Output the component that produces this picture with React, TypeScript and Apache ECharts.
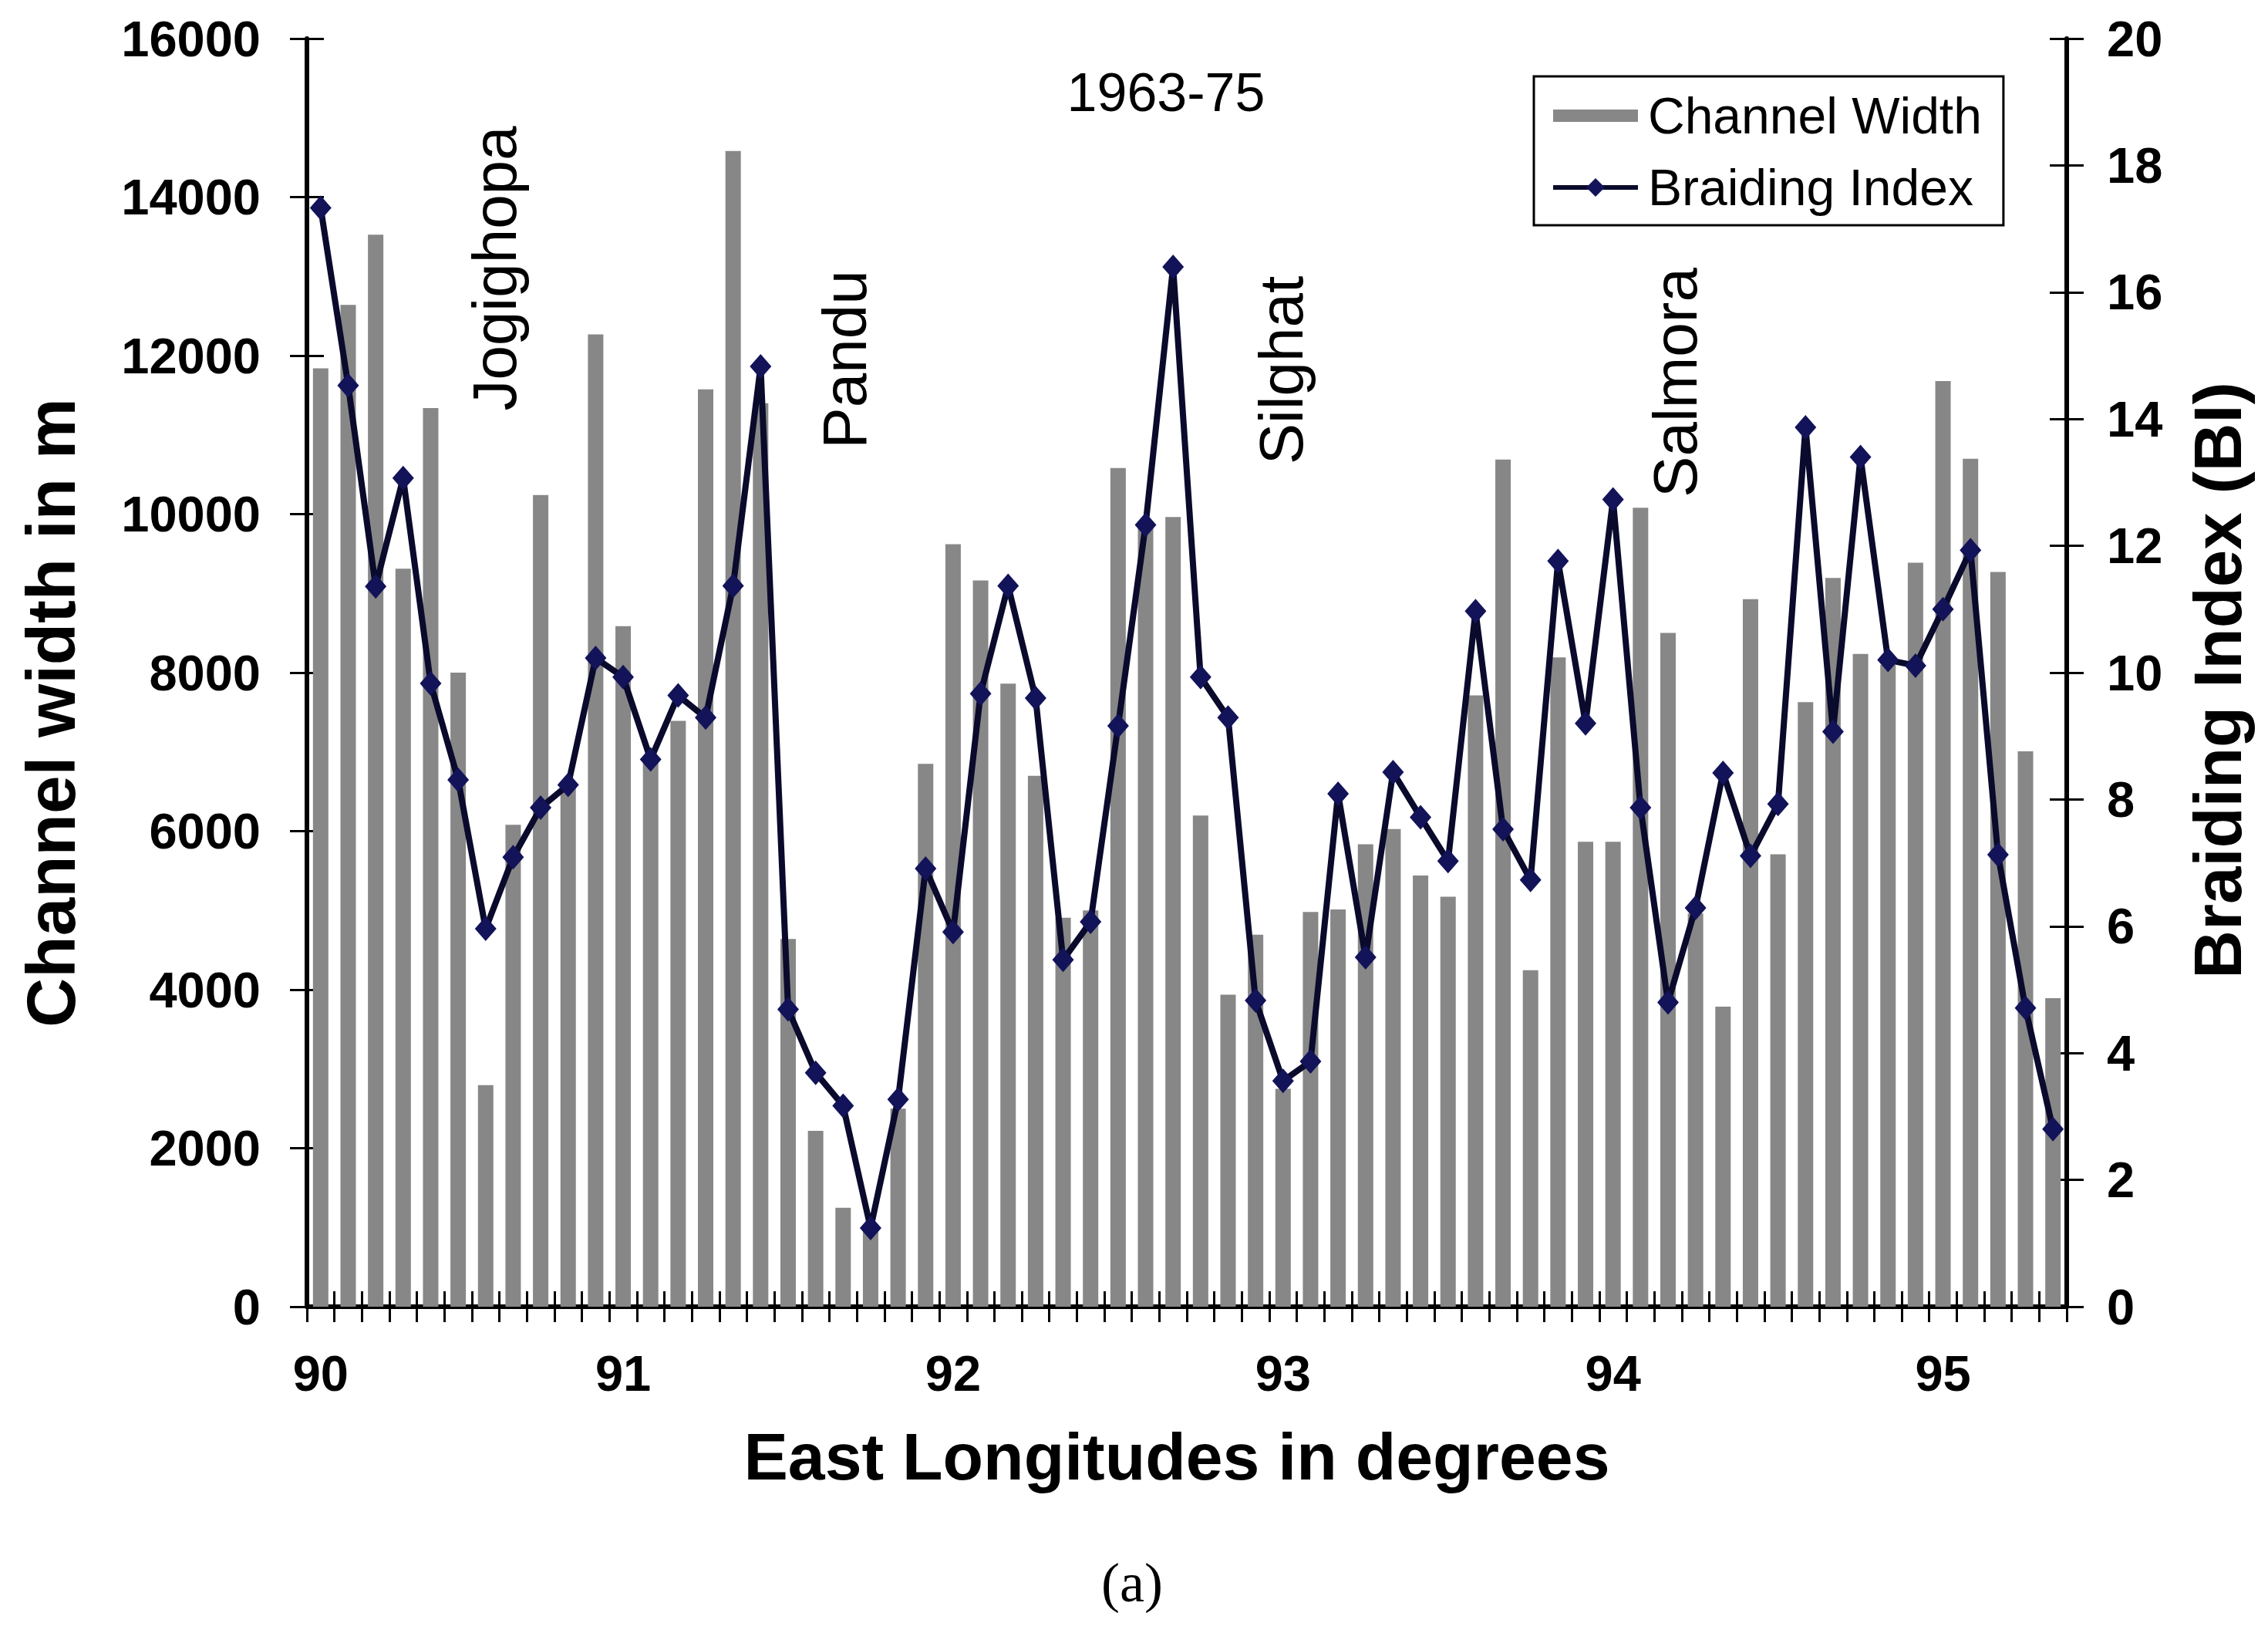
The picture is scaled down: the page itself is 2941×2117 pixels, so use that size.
import React, { useEffect, useRef } from "react";
import * as echarts from "echarts";

// Channel width (m) at each cross-section, 1963-75
const widthM = [
  11840, 12640, 13525, 9312, 11339, 8000, 2795, 6080, 10240, 6560,
  12267, 8587, 6900, 7392, 11573, 14581, 11400, 4640, 2219, 1248,
  1000, 2500, 6848, 9621, 9163, 7861, 6699, 4907, 5000, 10581,
  9900, 9963, 6197, 3936, 4693, 2750, 4981, 5013, 5835, 6027,
  5440, 5173, 7712, 10688, 4245, 8192, 5867, 5867, 10080, 8501,
  4960, 3787, 8928, 5707, 7627, 9195, 8235, 8100, 9387, 11680,
  10699, 9269, 7008, 3893,
];

// Braiding index (BI) at each cross-section
const braidingIndex = [
  17.33, 14.53, 11.36, 13.07, 9.83, 8.31, 5.96, 7.09, 7.87, 8.23,
  10.23, 9.93, 8.63, 9.64, 9.29, 11.37, 14.83, 4.69, 3.69, 3.17,
  1.24, 3.27, 6.91, 5.91, 9.67, 11.37, 9.6, 5.47, 6.07, 9.16,
  12.33, 16.4, 9.93, 9.29, 4.83, 3.56, 3.87, 8.09, 5.51, 8.43,
  7.72, 7.03, 10.97, 7.53, 6.73, 11.76, 9.2, 12.73, 7.87, 4.8,
  6.29, 8.42, 7.11, 7.93, 13.87, 9.07, 13.4, 10.2, 10.11, 11.0,
  11.93, 7.13, 4.71, 2.8,
];

// Longitude tick labels (category index -> label)
const degreeTickIndex = [0, 11, 23, 35, 47, 59];
const degreeTickLabel = ["90", "91", "92", "93", "94", "95"];

const seriesNames = ["Channel Width", "Braiding Index"];
const chartTitle = "1963-75";
const stationNames = ["Jogighopa", "Pandu", "Silghat", "Salmora"];
const xAxisTitle = "East Longitudes in degrees";
const leftAxisTitle = "Channel width in m";
const rightAxisTitle = "Braiding Index (BI)";
const panelLabel = "(a)";

const categories = widthM.map((_, i) => String(i));

const FONT = '"Liberation Sans", Arial, Helvetica, sans-serif';
const SERIF = '"Liberation Serif", "Times New Roman", serif';

const stationPos = [
  [641, 348],
  [1095, 466],
  [1661, 480],
  [2172, 496],
];

function buildOption(): any {
  const labelMap: Record<number, string> = {};
  degreeTickIndex.forEach((idx, k) => {
    labelMap[idx] = degreeTickLabel[k];
  });
  const tickStyle = { color: "#000", width: 3 };
  const axisLabelBase = {
    color: "#000",
    fontSize: 65,
    fontWeight: "bold",
    fontFamily: FONT,
  };
  return {
    animation: false,
    backgroundColor: "#fff",
    grid: { left: 398, right: 261, top: 50, bottom: 423, containLabel: false },
    legend: {
      orient: "vertical",
      left: 1989,
      top: 99,
      padding: [18, 28, 16, 22],
      itemGap: 27,
      itemWidth: 110,
      itemHeight: 30,
      borderColor: "#000",
      borderWidth: 3,
      backgroundColor: "#fff",
      selectedMode: false,
      lineStyle: { width: 6 },
      textStyle: { fontSize: 66, color: "#000", fontFamily: FONT, padding: [0, 0, 0, 8] },
      data: [
        { name: seriesNames[0], icon: "path://M0,0 M110,30 M0,7 L110,7 L110,23 L0,23 Z" },
        { name: seriesNames[1] },
      ],
    },
    xAxis: [
      {
        type: "category",
        data: categories,
        boundaryGap: true,
        position: "bottom",
        axisLine: { show: true, onZero: false, lineStyle: { color: "#000", width: 6 } },
        axisTick: { show: true, interval: 0, length: 20, lineStyle: tickStyle },
        axisLabel: {
          ...axisLabelBase,
          interval: (i: number) => labelMap[i] !== undefined,
          formatter: (_v: string, i: number) => labelMap[i] ?? "",
          margin: 54,
        },
        splitLine: { show: false },
      },
      {
        type: "category",
        data: categories,
        boundaryGap: true,
        position: "bottom",
        axisLine: { show: false, onZero: false },
        axisTick: { show: true, inside: true, interval: 0, length: 20, lineStyle: tickStyle },
        axisLabel: { show: false },
        splitLine: { show: false },
      },
    ],
    yAxis: [
      {
        type: "value",
        position: "left",
        min: 0,
        max: 16000,
        interval: 2000,
        axisLine: { show: true, lineStyle: { color: "#000", width: 6 } },
        axisTick: { show: true, length: 22, lineStyle: tickStyle },
        axisLabel: { ...axisLabelBase, margin: 60, formatter: (v: number) => String(v) },
        splitLine: { show: false },
      },
      {
        type: "value",
        position: "right",
        min: 0,
        max: 20,
        interval: 2,
        axisLine: { show: true, lineStyle: { color: "#000", width: 6 } },
        axisTick: { show: true, length: 22, lineStyle: tickStyle },
        axisLabel: { ...axisLabelBase, margin: 52, formatter: (v: number) => String(v) },
        splitLine: { show: false },
      },
      {
        type: "value",
        position: "left",
        min: 0,
        max: 16000,
        interval: 2000,
        axisLine: { show: false },
        axisTick: { show: true, inside: true, length: 22, lineStyle: tickStyle },
        axisLabel: { show: false },
        splitLine: { show: false },
      },
      {
        type: "value",
        position: "right",
        min: 0,
        max: 20,
        interval: 2,
        axisLine: { show: false },
        axisTick: { show: true, inside: true, length: 22, lineStyle: tickStyle },
        axisLabel: { show: false },
        splitLine: { show: false },
      },
    ],
    series: [
      {
        name: seriesNames[0],
        type: "bar",
        xAxisIndex: 0,
        yAxisIndex: 0,
        data: widthM,
        barWidth: 20,
        itemStyle: { color: "#878787" },
        z: 2,
      },
      {
        name: seriesNames[1],
        type: "line",
        xAxisIndex: 0,
        yAxisIndex: 1,
        data: braidingIndex,
        symbol: "diamond",
        symbolSize: [28, 32],
        showSymbol: true,
        showAllSymbol: true,
        lineStyle: { color: "#0a0a2c", width: 8 },
        itemStyle: { color: "#13135a" },
        z: 3,
      },
    ],
    graphic: [
      {
        type: "text",
        x: 1512,
        y: 120,
        style: { text: chartTitle, fontSize: 70, fontFamily: FONT, fill: "#000", align: "center", verticalAlign: "middle" },
      },
      ...stationNames.map((name, k) => ({
        type: "text",
        x: stationPos[k][0],
        y: stationPos[k][1],
        rotation: Math.PI / 2,
        style: { text: name, fontSize: 80, fontFamily: FONT, fill: "#000", align: "center", verticalAlign: "middle" },
      })),
      {
        type: "text",
        x: 66,
        y: 924,
        rotation: Math.PI / 2,
        style: { text: leftAxisTitle, fontSize: 89, fontWeight: "bold", fontFamily: FONT, fill: "#000", align: "center", verticalAlign: "middle" },
      },
      {
        type: "text",
        x: 2875,
        y: 882,
        rotation: Math.PI / 2,
        style: { text: rightAxisTitle, fontSize: 87, fontWeight: "bold", fontFamily: FONT, fill: "#000", align: "center", verticalAlign: "middle" },
      },
      {
        type: "text",
        x: 1526,
        y: 1888,
        style: { text: xAxisTitle, fontSize: 86, fontWeight: "bold", fontFamily: FONT, fill: "#000", align: "center", verticalAlign: "middle" },
      },
      {
        type: "text",
        x: 1468,
        y: 2052,
        style: { text: panelLabel, fontSize: 72, fontFamily: SERIF, fill: "#000", align: "center", verticalAlign: "middle" },
      },
    ],
  };
}

export default function App() {
  const ref = useRef<HTMLDivElement>(null);
  useEffect(() => {
    if (!ref.current) return;
    const chart = echarts.init(ref.current, null, { renderer: "svg" });
    chart.setOption(buildOption());
    return () => chart.dispose();
  }, []);
  return (
    <div
      ref={ref}
      style={{ position: "fixed", left: 0, top: 0, width: 2941, height: 2117, background: "#fff" }}
    />
  );
}
